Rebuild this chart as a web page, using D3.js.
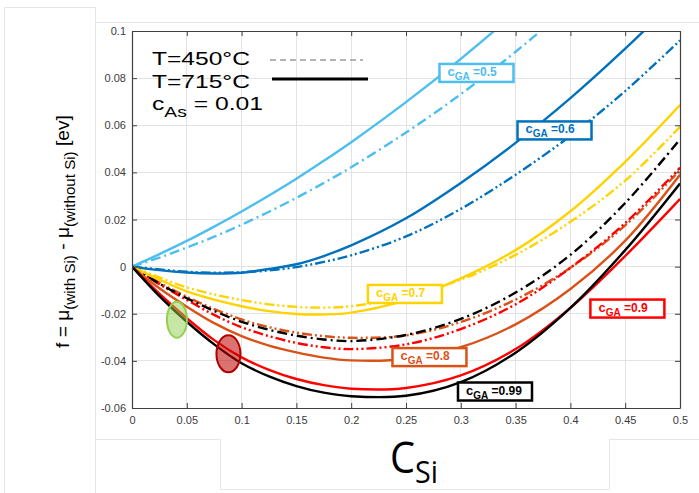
<!DOCTYPE html>
<html><head><meta charset="utf-8">
<script src="https://cdn.jsdelivr.net/npm/d3@7"></script>
<style>body{margin:0;background:#fff}svg{display:block}</style>
</head><body>
<svg id="chart" width="699" height="493"></svg>
<script>
// ---------------- data ----------------
const cSi = [0, 0.025, 0.05, 0.075, 0.1, 0.125, 0.15, 0.175, 0.2, 0.25, 0.3, 0.35, 0.4, 0.45, 0.5];

const fGA05_715 = [0, 0.0053, 0.0109, 0.0170, 0.0234, 0.0302, 0.0373, 0.0449, 0.0528, 0.0698, 0.0882, 0.108, 0.130, 0.153, 0.177];
const fGA05_450 = [0, 0.0038, 0.0081, 0.0127, 0.0178, 0.0233, 0.0292, 0.0355, 0.0422, 0.0569, 0.0732, 0.0912, 0.111, 0.132, 0.155];
const fGA06_715 = [0, -0.0015, -0.0025, -0.0029, -0.0026, -0.0010, 0.0010, 0.0045, 0.0090, 0.0205, 0.0355, 0.0525, 0.0715, 0.0925, 0.1150];
const fGA06_450 = [0, -0.0012, -0.0022, -0.0026, -0.0024, -0.0016, -0.0002, 0.0020, 0.0048, 0.0128, 0.0245, 0.0390, 0.0555, 0.0745, 0.0960];
const fGA07_715 = [0, -0.0055, -0.0105, -0.0140, -0.0168, -0.0189, -0.0201, -0.0203, -0.0195, -0.0142, -0.0050, 0.0070, 0.0235, 0.0445, 0.0686];
const fGA07_450 = [0, -0.0046, -0.0088, -0.0118, -0.0142, -0.0160, -0.0171, -0.0174, -0.0168, -0.0128, -0.0055, 0.0050, 0.0190, 0.0365, 0.0593];
const fGA08_715 = [0, -0.0092, -0.0170, -0.0240, -0.0295, -0.0335, -0.0364, -0.0386, -0.0398, -0.0392, -0.0342, -0.0245, -0.0095, 0.0110, 0.0390];
const fGA08_450 = [0, -0.0068, -0.0128, -0.0180, -0.0224, -0.0257, -0.0280, -0.0295, -0.0302, -0.0292, -0.0235, -0.0140, -0.0005, 0.0175, 0.0410];
const fGA09_715 = [0, -0.0115, -0.0219, -0.0312, -0.0385, -0.0438, -0.0477, -0.0503, -0.0518, -0.0515, -0.0462, -0.0350, -0.0175, 0.0045, 0.0287];
const fGA09_450 = [0, -0.0075, -0.0141, -0.0205, -0.0257, -0.0295, -0.0324, -0.0342, -0.0350, -0.0330, -0.0265, -0.0160, -0.0005, 0.0185, 0.0420];
const fGA099_715 = [0, -0.0125, -0.0234, -0.0330, -0.0410, -0.0466, -0.0507, -0.0535, -0.0550, -0.0548, -0.0490, -0.0365, -0.0175, 0.0070, 0.0353];
const fGA099_450 = [0, -0.0072, -0.0134, -0.0188, -0.0234, -0.0268, -0.0293, -0.0309, -0.0316, -0.0290, -0.0222, -0.0110, 0.0050, 0.0270, 0.0540];

const gaLabels = ["0.5", "0.6", "0.7", "0.8", "0.9", "0.99"];
const xTickValues = [0, 0.05, 0.1, 0.15, 0.2, 0.25, 0.3, 0.35, 0.4, 0.45, 0.5];
const xTickLabels = ["0", "0.05", "0.1", "0.15", "0.2", "0.25", "0.3", "0.35", "0.4", "0.45", "0.5"];
const yTickValues = [-0.06, -0.04, -0.02, 0, 0.02, 0.04, 0.06, 0.08, 0.1];
const yTickLabels = ["-0.06", "-0.04", "-0.02", "0", "0.02", "0.04", "0.06", "0.08", "0.1"];
const legendTexts = ["T=450°C", "T=715°C"];

// ---------------- styles / layout ----------------
const colors = ["#4DBEEE", "#0072BD", "#FFD300", "#D95319", "#FF0000", "#000000"];
const dashPat = ["10,4,2,4", "10,3,2,3,2,3", "10,3,2,3,2,3", "10,3,2,3,2,3", "10,3,2,3,2,3", "10,4,2,4"];
const solidSeries = [fGA05_715, fGA06_715, fGA07_715, fGA08_715, fGA09_715, fGA099_715];
const dashSeries = [fGA05_450, fGA06_450, fGA07_450, fGA08_450, fGA09_450, fGA099_450];
// label box centres in data coordinates
const labelPos = [[0.3143, 0.0822], [0.3855, 0.0578], [0.249, -0.0116], [0.2714, -0.0384], [0.452, -0.0178], [0.3312, -0.0530]];

const W = 699, H = 493;
const L = 132, R = 680, T = 31, B = 408;
const svg = d3.select("#chart");
const x = d3.scaleLinear().domain([0, 0.5]).range([L, R]);
const y = d3.scaleLinear().domain([-0.06, 0.1]).range([B, T]);

svg.append("rect").attr("width", W).attr("height", H).attr("fill", "#fff");

// faint frame lines from the original figure composition
const frame = svg.append("g").attr("fill", "none").attr("stroke", "#e6e6e6").attr("stroke-width", 1);
frame.append("path").attr("d", "M4.5,493 V7.5 H95.5 V22.5 H699");
frame.append("path").attr("d", "M95.5,22.5 V493");
frame.append("path").attr("d", "M95.5,439.5 H220.5 V489.5 H609.5 V439.5 H699");

// grid
const grid = svg.append("g");
grid.selectAll(".gx").data(xTickValues).join("line")
  .attr("x1", d => x(d)).attr("x2", d => x(d)).attr("y1", T).attr("y2", B)
  .attr("stroke", "#e3e3e3").attr("stroke-width", 1).attr("shape-rendering", "crispEdges");
grid.selectAll(".gy").data(yTickValues).join("line")
  .attr("y1", d => y(d)).attr("y2", d => y(d)).attr("x1", L).attr("x2", R)
  .attr("stroke", "#e3e3e3").attr("stroke-width", 1).attr("shape-rendering", "crispEdges");

// clip
svg.append("clipPath").attr("id", "clip").append("rect")
  .attr("x", L).attr("y", T).attr("width", R - L).attr("height", B - T);

const line = d3.line().x((d, i) => x(cSi[i])).y(d => y(d)).curve(d3.curveCatmullRom.alpha(0.5));
const curves = svg.append("g").attr("clip-path", "url(#clip)");
colors.forEach((col, k) => {
  curves.append("path").datum(dashSeries[k]).attr("d", line)
    .attr("fill", "none").attr("stroke", col).attr("stroke-width", 2.4)
    .attr("stroke-dasharray", dashPat[k]);
});
colors.forEach((col, k) => {
  curves.append("path").datum(solidSeries[k]).attr("d", line)
    .attr("fill", "none").attr("stroke", col).attr("stroke-width", 2.4);
});

// axes (inward ticks on all sides)
const axCol = "#404040";
const fmtX = (d, i) => xTickLabels[i];
const fmtY = (d, i) => yTickLabels[i];
const gB = svg.append("g").attr("transform", `translate(0,${B})`)
  .call(d3.axisBottom(x).tickValues(xTickValues).tickFormat(fmtX).tickSizeInner(-5).tickSizeOuter(0).tickPadding(8));
const gL = svg.append("g").attr("transform", `translate(${L},0)`)
  .call(d3.axisLeft(y).tickValues(yTickValues).tickFormat(fmtY).tickSizeInner(-5).tickSizeOuter(0).tickPadding(6));
const gT = svg.append("g").attr("transform", `translate(0,${T})`)
  .call(d3.axisTop(x).tickValues(xTickValues).tickFormat("").tickSizeInner(-5).tickSizeOuter(0));
const gR = svg.append("g").attr("transform", `translate(${R},0)`)
  .call(d3.axisRight(y).tickValues(yTickValues).tickFormat("").tickSizeInner(-5).tickSizeOuter(0));
[gB, gL, gT, gR].forEach(g => {
  g.select(".domain").attr("stroke", axCol).attr("stroke-width", 1.2);
  g.selectAll(".tick line").attr("stroke", axCol);
  g.selectAll("text").attr("fill", "#3a3a3a").attr("font-family", "Liberation Sans, Arial, sans-serif").attr("font-size", 11);
});

// legend
const legFont = "Liberation Sans, Arial, sans-serif";
function stretched(gx, gy, targetW, build) {
  const g = svg.append("g");
  const t = g.append("text").attr("font-family", legFont).attr("fill", "#000");
  build(t);
  const w = t.node().getComputedTextLength();
  g.attr("transform", `translate(${gx},${gy}) scale(${targetW / w},1)`);
  return g;
}
stretched(152, 65, 98, t => t.attr("font-size", 18).text(legendTexts[0]));
stretched(152, 88, 98, t => t.attr("font-size", 18).text(legendTexts[1]));
stretched(152, 110, 111, t => {
  t.attr("font-size", 18);
  t.append("tspan").text("c");
  t.append("tspan").attr("font-size", 14).attr("dy", 7).text("As");
  t.append("tspan").attr("dy", -7).text(" = 0.01");
});
svg.append("line").attr("x1", 270).attr("x2", 363).attr("y1", 60).attr("y2", 60)
  .attr("stroke", "#9a9a9a").attr("stroke-width", 1.6).attr("stroke-dasharray", "6,4");
svg.append("line").attr("x1", 272).attr("x2", 368).attr("y1", 79).attr("y2", 79)
  .attr("stroke", "#000").attr("stroke-width", 3);

// annotation ellipses
svg.append("ellipse").attr("cx", x(0.041)).attr("cy", y(-0.0225)).attr("rx", 10).attr("ry", 18)
  .attr("fill", "rgba(146,208,80,0.5)").attr("stroke", "#92D050").attr("stroke-width", 2);
svg.append("ellipse").attr("cx", x(0.088)).attr("cy", y(-0.037)).attr("rx", 12).attr("ry", 18.5)
  .attr("fill", "rgba(192,0,0,0.55)").attr("stroke", "#B00000").attr("stroke-width", 2);

// cGA label boxes
gaLabels.forEach((lab, k) => {
  const cx = x(labelPos[k][0]), cy = y(labelPos[k][1]);
  const g = svg.append("g").attr("transform", `translate(${cx},${cy})`);
  g.append("rect").attr("x", -37).attr("y", -9).attr("width", 74).attr("height", 18)
    .attr("fill", "#fff").attr("stroke", colors[k]).attr("stroke-width", 2.5);
  const t = g.append("text").attr("x", -29).attr("y", 3).attr("font-family", legFont)
    .attr("font-weight", "bold").attr("font-size", 12).attr("fill", colors[k]);
  t.append("tspan").attr("font-size", 13).text("c");
  t.append("tspan").attr("font-size", 10).attr("dy", 4).text("GA");
  t.append("tspan").attr("dy", -4).text(" =" + lab);
});

// y-axis title
(function () {
  const g = svg.append("g");
  const t = g.append("text").attr("font-family", legFont).attr("font-size", 19).attr("fill", "#000");
  t.append("tspan").text("f = μ");
  t.append("tspan").attr("font-size", 15).attr("dy", 6).text("(with Si)");
  t.append("tspan").attr("dy", -6).text(" - μ");
  t.append("tspan").attr("font-size", 15).attr("dy", 6).text("(without Si)");
  t.append("tspan").attr("dy", -6).text("  [ev]");
  const w = t.node().getComputedTextLength();
  g.attr("transform", `translate(69,348) rotate(-90) scale(${233 / w},1)`);
})();

// x-axis title
(function () {
  const g = svg.append("g");
  const t = g.append("text").attr("font-family", "Open Sans, sans-serif").attr("fill", "#000");
  t.append("tspan").attr("font-size", 43).text("C");
  t.append("tspan").attr("font-size", 31).attr("dy", 10).text("Si");
  const w = t.node().getComputedTextLength();
  g.attr("transform", `translate(390,473) scale(${48 / w},1)`);
})();
</script>
</body></html>
